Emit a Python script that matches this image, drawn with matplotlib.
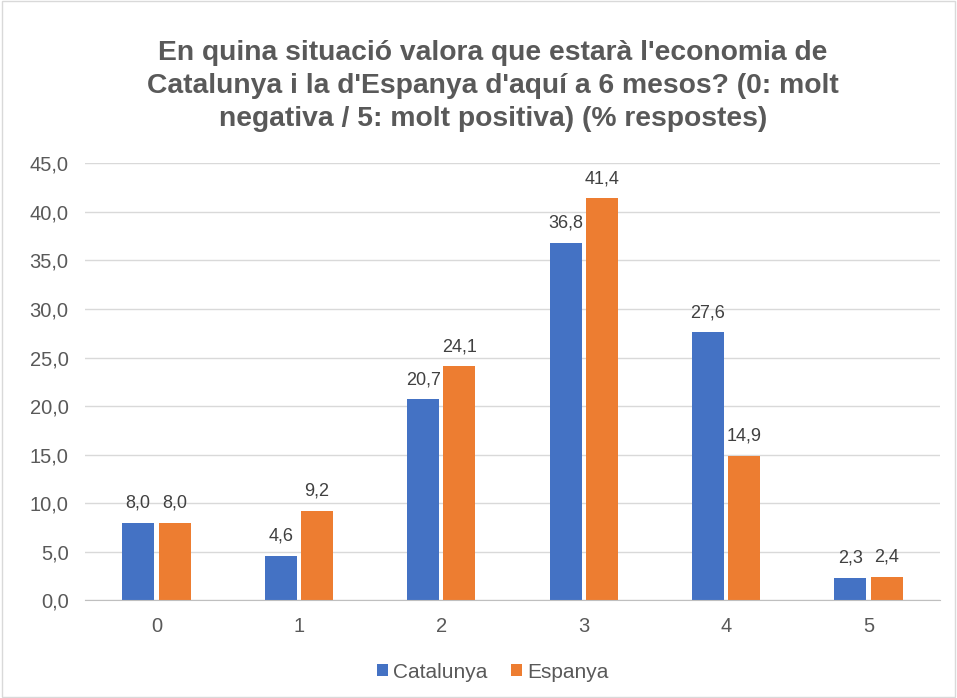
import matplotlib
matplotlib.use("Agg")
import matplotlib.pyplot as plt
import numpy as np
from matplotlib.patches import Rectangle

plt.rcParams['font.family'] = ['Liberation Sans', 'DejaVu Sans']

categories = ["0", "1", "2", "3", "4", "5"]
catalunya = [8.0, 4.6, 20.7, 36.8, 27.6, 2.3]
espanya = [8.0, 9.2, 24.1, 41.4, 14.9, 2.4]
series_names = ["Catalunya", "Espanya"]
colors = ["#4472C4", "#ED7D31"]
title = "En quina situació valora que estarà l'economia de\nCatalunya i la d'Espanya d'aquí a 6 mesos? (0: molt\nnegativa / 5: molt positiva) (% respostes)"

fig = plt.figure(figsize=(9.57, 6.98), dpi=100)
ax = fig.add_axes([0.089, 0.140, 0.893, 0.626])

x = np.arange(len(categories))
w = 0.225
gap = 0.03
b1 = ax.bar(x - w/2 - gap/2, catalunya, w, color=colors[0], label=series_names[0])
b2 = ax.bar(x + w/2 + gap/2, espanya, w, color=colors[1], label=series_names[1])

for bars, vals in ((b1, catalunya), (b2, espanya)):
    for r, v in zip(bars, vals):
        ax.annotate(f"{v:.1f}".replace(".", ","), (r.get_x() + r.get_width()/2, v),
                    xytext=(0, 8), textcoords="offset points", ha="center", va="bottom",
                    fontsize=13, color="#404040")

ax.set_ylim(0, 45)
ax.set_xlim(-0.5, 5.5)
ax.set_yticks(np.arange(0, 46, 5))
ax.set_yticklabels([f"{v:.1f}".replace(".", ",") for v in np.arange(0, 46, 5)])
ax.set_xticks(x)
ax.set_xticklabels(categories)
ax.tick_params(axis='both', length=0, labelsize=14.5, labelcolor="#595959")
ax.tick_params(axis='x', pad=12)
ax.tick_params(axis='y', pad=12)
ax.yaxis.grid(True, color="#D9D9D9", linewidth=1)
ax.set_axisbelow(True)
for s in ("top", "right", "left"):
    ax.spines[s].set_visible(False)
ax.spines["bottom"].set_color("#BFBFBF")

fig.text(0.515, 0.877, title, ha="center", va="center", fontsize=20.3, fontweight="bold",
         color="#595959", linespacing=1.35)

leg = fig.legend(loc="center", bbox_to_anchor=(0.515, 0.037), ncol=2, frameon=False,
                 fontsize=15, handlelength=0.5, handleheight=0.5, columnspacing=1.15,
                 handletextpad=0.25)
for t in leg.get_texts():
    t.set_color("#595959")

fig.patches.append(Rectangle((0.002, 0.002), 0.996, 0.996, transform=fig.transFigure,
                             fill=False, edgecolor="#D9D9D9", linewidth=1))

fig.savefig("out.png", dpi=100)
